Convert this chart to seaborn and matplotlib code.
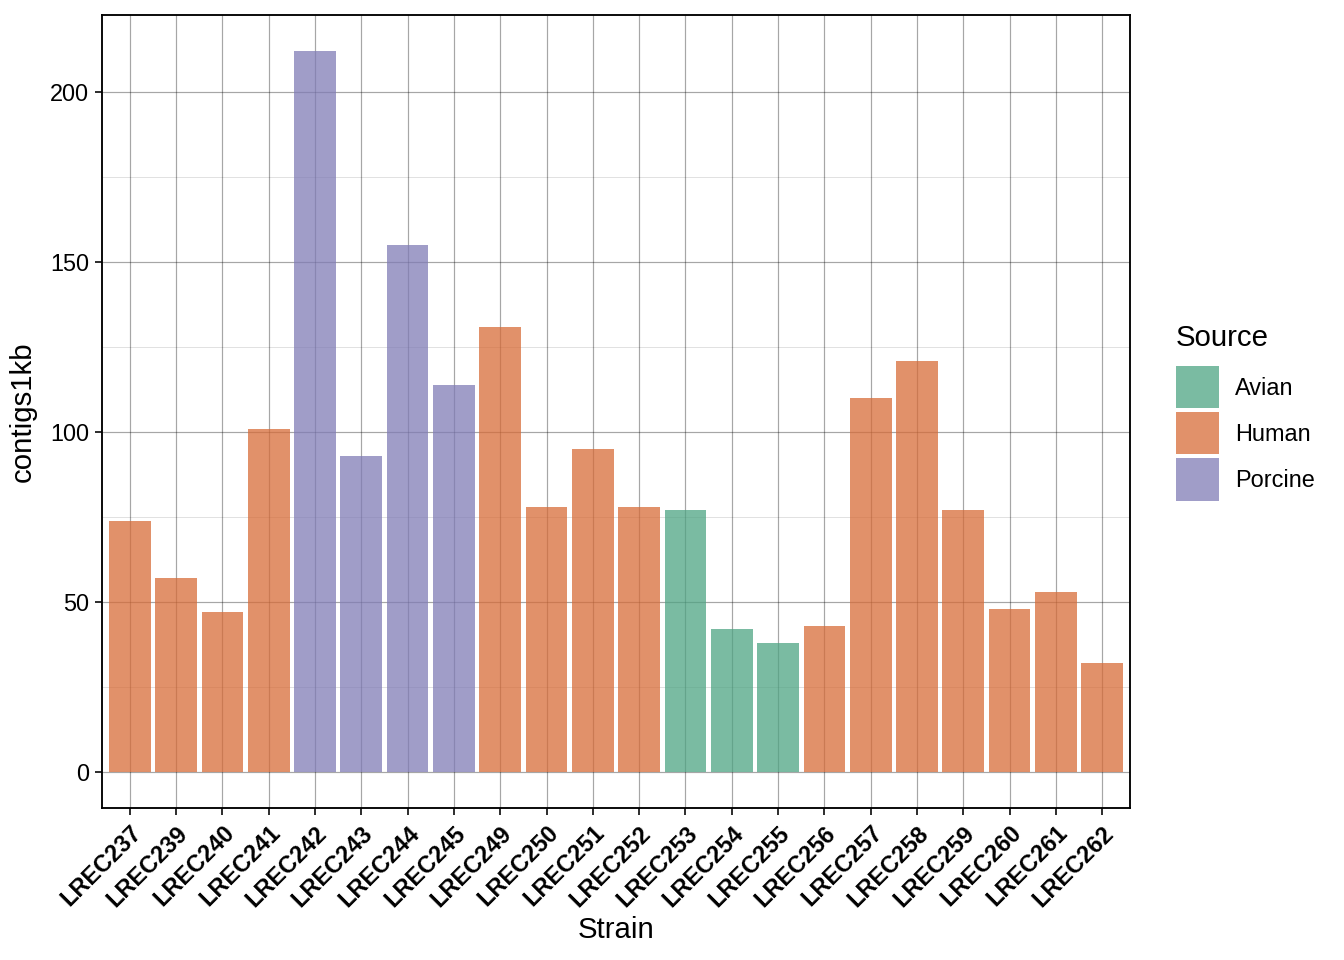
import pandas as pd
import matplotlib
matplotlib.use("Agg")
import matplotlib.pyplot as plt
import seaborn as sns
from matplotlib.patches import Patch
from matplotlib.ticker import MultipleLocator

# data
strains = ["LREC237", "LREC239", "LREC240", "LREC241", "LREC242", "LREC243",
           "LREC244", "LREC245", "LREC249", "LREC250", "LREC251", "LREC252",
           "LREC253", "LREC254", "LREC255", "LREC256", "LREC257", "LREC258",
           "LREC259", "LREC260", "LREC261", "LREC262"]
contigs = [74, 57, 47, 101, 212, 93, 155, 114, 131, 78, 95, 78,
           77, 42, 38, 43, 110, 121, 77, 48, 53, 32]
source = ["Human", "Human", "Human", "Human", "Porcine", "Porcine",
          "Porcine", "Porcine", "Human", "Human", "Human", "Human",
          "Avian", "Avian", "Avian", "Human", "Human", "Human",
          "Human", "Human", "Human", "Human"]
sources = ["Avian", "Human", "Porcine"]

df = pd.DataFrame({"Strain": strains, "contigs1kb": contigs, "Source": source})

pal = {"Avian": "#4ea483", "Human": "#d76c38", "Porcine": "#807cb6"}
alpha = 0.75

sns.set_theme(style="white")
plt.rcParams["font.family"] = ["Liberation Sans", "DejaVu Sans"]
plt.rcParams["text.color"] = "black"
plt.rcParams["axes.labelcolor"] = "black"

fig = plt.figure(figsize=(7, 5), dpi=192)
ax = fig.add_axes([0.0759, 0.158, 0.8408 - 0.0759, 0.984 - 0.158])

sns.barplot(data=df, x="Strain", y="contigs1kb", hue="Source", order=strains,
            hue_order=sources, palette=pal, dodge=False, width=0.9,
            saturation=1, alpha=alpha, linewidth=0, legend=False, ax=ax)

ax.set_xlim(-0.6, len(strains) - 0.4)
ax.set_ylim(-10.6, 222.6)
ax.yaxis.set_major_locator(MultipleLocator(50))
ax.yaxis.set_minor_locator(MultipleLocator(25))

ax.set_axisbelow(True)
ax.grid(which="major", color="black", linewidth=0.45, alpha=0.35)
ax.grid(which="minor", axis="y", color="black", linewidth=0.3, alpha=0.15)

for s in ax.spines.values():
    s.set_color("black")
    s.set_linewidth(0.7)

ax.tick_params(axis="both", which="major", length=2.75, width=0.6,
               color="black", labelsize=8.8, labelcolor="black", pad=2.2,
               bottom=True, left=True)
ax.tick_params(axis="y", which="minor", length=0)
plt.setp(ax.get_xticklabels(), rotation=45, ha="right",
         rotation_mode="anchor", fontweight="bold")

ax.set_xlabel("Strain", fontsize=11, labelpad=2)
ax.set_ylabel("contigs1kb", fontsize=11, labelpad=5)

handles = [Patch(facecolor=pal[s], alpha=alpha, edgecolor="none") for s in sources]
leg = fig.legend(handles, sources, title="Source", loc="upper left",
                 bbox_to_anchor=(0.868, 0.672), frameon=False, fontsize=8.8,
                 title_fontsize=11, handlelength=1.83, handleheight=2.38,
                 labelspacing=0.17, handletextpad=0.68, borderaxespad=0)
leg._legend_box.align = "left"
leg._legend_box.sep = 5.3  # extra gap under the title
for t in leg.get_texts():
    t.set_color("black")

fig.savefig("out.png", dpi=192)
